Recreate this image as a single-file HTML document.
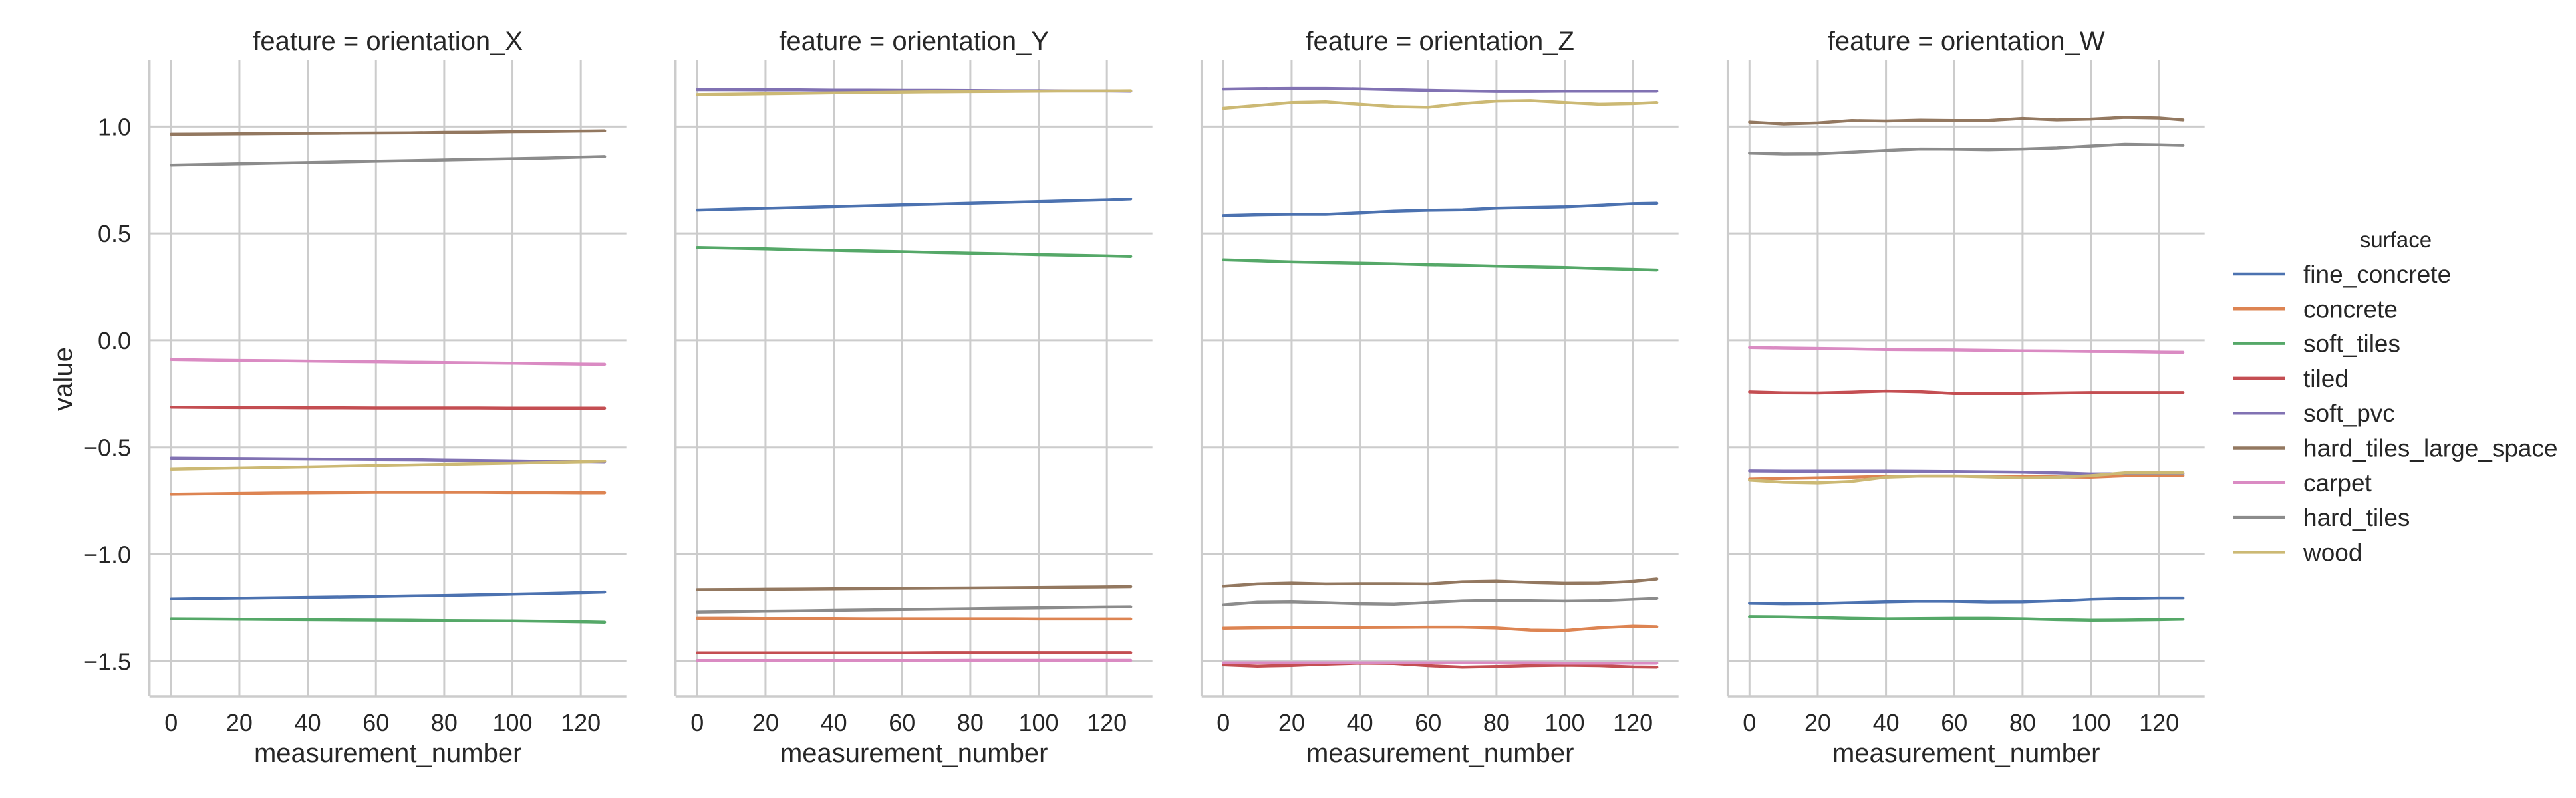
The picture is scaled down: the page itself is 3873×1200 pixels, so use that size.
<!DOCTYPE html>
<html><head><meta charset="utf-8"><style>
html,body{margin:0;padding:0;background:#fff;}
svg{display:block;font-family:"Liberation Sans",Arial,sans-serif;}
</style></head><body>
<svg id="chart" width="3873" height="1200" viewBox="0 0 3873 1200" xmlns="http://www.w3.org/2000/svg"></svg>
<script>
const measurementNumbers = [0,10,20,30,40,50,60,70,80,90,100,110,120,127];
const features = ["orientation_X","orientation_Y","orientation_Z","orientation_W"];
const surfaces = ["fine_concrete","concrete","soft_tiles","tiled","soft_pvc","hard_tiles_large_space","carpet","hard_tiles","wood"];
const colors = ["#4c72b0","#dd8452","#55a868","#c44e52","#8172b3","#937860","#da8bc3","#8c8c8c","#ccb974"];
const yTicks = [1.0,0.5,0.0,-0.5,-1.0,-1.5];
const yTickLabels = ["1.0","0.5","0.0","\u22120.5","\u22121.0","\u22121.5"];
const xTicks = [0,20,40,60,80,100,120];
const xTickLabels = ["0","20","40","60","80","100","120"];

// orientation_X
const xFineConcrete = [-1.209,-1.207,-1.205,-1.203,-1.201,-1.199,-1.197,-1.194,-1.192,-1.189,-1.186,-1.183,-1.179,-1.176];
const xConcrete = [-0.720,-0.718,-0.716,-0.714,-0.713,-0.712,-0.711,-0.711,-0.711,-0.711,-0.712,-0.712,-0.713,-0.713];
const xSoftTiles = [-1.302,-1.303,-1.304,-1.305,-1.306,-1.307,-1.308,-1.309,-1.310,-1.311,-1.312,-1.314,-1.316,-1.318];
const xTiled = [-0.312,-0.313,-0.314,-0.314,-0.315,-0.315,-0.316,-0.316,-0.316,-0.316,-0.317,-0.317,-0.317,-0.317];
const xSoftPvc = [-0.550,-0.551,-0.552,-0.553,-0.554,-0.555,-0.556,-0.557,-0.559,-0.561,-0.563,-0.565,-0.566,-0.567];
const xHardTilesLarge = [0.964,0.965,0.966,0.967,0.968,0.969,0.970,0.971,0.973,0.974,0.976,0.977,0.979,0.980];
const xCarpet = [-0.090,-0.092,-0.094,-0.095,-0.097,-0.099,-0.100,-0.102,-0.104,-0.105,-0.107,-0.109,-0.111,-0.112];
const xHardTiles = [0.820,0.823,0.826,0.829,0.832,0.835,0.838,0.841,0.844,0.847,0.850,0.853,0.857,0.860];
const xWood = [-0.603,-0.600,-0.597,-0.594,-0.591,-0.588,-0.585,-0.582,-0.579,-0.576,-0.573,-0.570,-0.567,-0.564];
// orientation_Y
const yFineConcrete = [0.609,0.613,0.617,0.621,0.625,0.629,0.633,0.637,0.641,0.645,0.649,0.653,0.657,0.661];
const yConcrete = [-1.300,-1.300,-1.301,-1.301,-1.301,-1.302,-1.302,-1.302,-1.302,-1.302,-1.303,-1.303,-1.303,-1.303];
const ySoftTiles = [0.434,0.431,0.428,0.424,0.421,0.418,0.415,0.411,0.408,0.405,0.401,0.398,0.395,0.392];
const yTiled = [-1.461,-1.461,-1.461,-1.461,-1.461,-1.461,-1.461,-1.460,-1.460,-1.460,-1.460,-1.460,-1.460,-1.460];
const ySoftPvc = [1.172,1.172,1.171,1.171,1.170,1.170,1.169,1.169,1.168,1.167,1.167,1.166,1.166,1.165];
const yHardTilesLarge = [-1.165,-1.164,-1.163,-1.162,-1.161,-1.160,-1.159,-1.158,-1.157,-1.156,-1.155,-1.153,-1.152,-1.151];
const yCarpet = [-1.497,-1.497,-1.497,-1.497,-1.497,-1.497,-1.497,-1.497,-1.496,-1.496,-1.496,-1.496,-1.496,-1.496];
const yHardTiles = [-1.271,-1.269,-1.267,-1.265,-1.263,-1.261,-1.259,-1.257,-1.255,-1.253,-1.251,-1.249,-1.247,-1.246];
const yWood = [1.149,1.151,1.153,1.155,1.157,1.159,1.161,1.162,1.163,1.164,1.165,1.166,1.166,1.167];
// orientation_Z
const zFineConcrete = [0.583,0.587,0.589,0.589,0.596,0.604,0.608,0.610,0.618,0.621,0.624,0.631,0.639,0.641];
const zConcrete = [-1.346,-1.344,-1.343,-1.343,-1.343,-1.342,-1.341,-1.341,-1.345,-1.355,-1.357,-1.344,-1.337,-1.339];
const zSoftTiles = [0.377,0.372,0.367,0.364,0.361,0.358,0.354,0.351,0.347,0.344,0.341,0.336,0.332,0.329];
const zTiled = [-1.517,-1.523,-1.520,-1.514,-1.509,-1.511,-1.521,-1.528,-1.525,-1.521,-1.519,-1.521,-1.527,-1.528];
const zSoftPvc = [1.175,1.177,1.178,1.178,1.176,1.172,1.169,1.166,1.164,1.164,1.165,1.165,1.165,1.165];
const zHardTilesLarge = [-1.149,-1.138,-1.134,-1.138,-1.137,-1.137,-1.138,-1.128,-1.125,-1.131,-1.135,-1.134,-1.126,-1.115];
const zCarpet = [-1.508,-1.508,-1.508,-1.508,-1.508,-1.508,-1.508,-1.508,-1.508,-1.508,-1.509,-1.509,-1.509,-1.509];
const zHardTiles = [-1.237,-1.225,-1.223,-1.227,-1.232,-1.234,-1.226,-1.218,-1.215,-1.217,-1.219,-1.217,-1.211,-1.206];
const zWood = [1.085,1.098,1.112,1.115,1.104,1.093,1.090,1.107,1.119,1.121,1.112,1.104,1.107,1.112];
// orientation_W
const wFineConcrete = [-1.230,-1.232,-1.231,-1.227,-1.223,-1.220,-1.221,-1.224,-1.223,-1.218,-1.211,-1.207,-1.204,-1.204];
const wConcrete = [-0.649,-0.646,-0.643,-0.640,-0.637,-0.635,-0.635,-0.636,-0.637,-0.639,-0.640,-0.634,-0.633,-0.633];
const wSoftTiles = [-1.292,-1.293,-1.296,-1.300,-1.302,-1.301,-1.300,-1.300,-1.302,-1.306,-1.309,-1.308,-1.306,-1.304];
const wTiled = [-0.241,-0.245,-0.246,-0.242,-0.237,-0.240,-0.248,-0.248,-0.248,-0.246,-0.244,-0.244,-0.244,-0.244];
const wSoftPvc = [-0.611,-0.612,-0.612,-0.612,-0.612,-0.613,-0.614,-0.615,-0.617,-0.620,-0.625,-0.624,-0.624,-0.624];
const wHardTilesLarge = [1.021,1.012,1.017,1.028,1.026,1.030,1.028,1.028,1.038,1.031,1.035,1.043,1.040,1.031];
const wCarpet = [-0.034,-0.036,-0.038,-0.040,-0.043,-0.044,-0.045,-0.047,-0.049,-0.050,-0.052,-0.053,-0.055,-0.056];
const wHardTiles = [0.876,0.872,0.873,0.880,0.888,0.895,0.894,0.892,0.895,0.900,0.909,0.917,0.915,0.912];
const wWood = [-0.654,-0.664,-0.667,-0.660,-0.640,-0.635,-0.635,-0.639,-0.643,-0.641,-0.633,-0.620,-0.620,-0.620];

const panelSeries = [
  [xFineConcrete,xConcrete,xSoftTiles,xTiled,xSoftPvc,xHardTilesLarge,xCarpet,xHardTiles,xWood],
  [yFineConcrete,yConcrete,ySoftTiles,yTiled,ySoftPvc,yHardTilesLarge,yCarpet,yHardTiles,yWood],
  [zFineConcrete,zConcrete,zSoftTiles,zTiled,zSoftPvc,zHardTilesLarge,zCarpet,zHardTiles,zWood],
  [wFineConcrete,wConcrete,wSoftTiles,wTiled,wSoftPvc,wHardTilesLarge,wCarpet,wHardTiles,wWood]
];

const NS = "http://www.w3.org/2000/svg";
const svg = document.getElementById("chart");
const panelLeft0 = 224.7, panelStep = 791, panelW = 717;
const plotTop = 90, plotBottom = 1047;
const xMin = -6.35, xMax = 133.35, yMin = -1.664, yMax = 1.312;
function xScale(p, v){ return panelLeft0 + p*panelStep + (v - xMin)/(xMax - xMin)*panelW; }
function yScale(v){ return plotBottom - (v - yMin)/(yMax - yMin)*(plotBottom - plotTop); }
function mk(tag, attrs, parent){
  const el = document.createElementNS(NS, tag);
  for (const k in attrs) el.setAttribute(k, attrs[k]);
  (parent || svg).appendChild(el);
  return el;
}

features.forEach((feat, p) => {
  const g = mk("g", {});
  
  
  const L = panelLeft0 + p*panelStep;
  yTicks.forEach(t => {
    const ln = mk("line", {x1:L, x2:L+panelW, y1:yScale(t), y2:yScale(t), stroke:"#cccccc", "stroke-width":3}, g);
    
    
  });
  xTicks.forEach((t, i) => {
    const ln = mk("line", {x1:xScale(p,t), x2:xScale(p,t), y1:plotTop, y2:plotBottom, stroke:"#cccccc", "stroke-width":3}, g);
    
    
    const tx = mk("text", {x:xScale(p,t), y:1099, "text-anchor":"middle", "font-size":36, fill:"#262626"}, g);
    tx.textContent = xTickLabels[i];
    
    
  });
  const sl = mk("line", {x1:L, x2:L, y1:plotTop, y2:plotBottom, stroke:"#cccccc", "stroke-width":3.5}, g);
  
  
  const sb = mk("line", {x1:L, x2:L+panelW, y1:plotBottom, y2:plotBottom, stroke:"#cccccc", "stroke-width":3.5}, g);
  
  
  panelSeries[p].forEach((vals, s) => {
    const d = vals.map((v, i) => (i ? "L" : "M") + xScale(p, measurementNumbers[i]).toFixed(1) + "," + yScale(v).toFixed(1)).join(" ");
    const path = mk("path", {d:d, fill:"none", stroke:colors[s], "stroke-width":4.5, "stroke-linejoin":"round", "stroke-linecap":"round"}, g);
    
    
  });
  const ti = mk("text", {x:L + panelW/2, y:75, "text-anchor":"middle", "font-size":40, fill:"#262626"}, g);
  ti.textContent = "feature = " + feat;
  
  
  const xl = mk("text", {x:L + panelW/2, y:1146, "text-anchor":"middle", "font-size":40, fill:"#262626"}, g);
  xl.textContent = "measurement_number";
  
  
  if (p === 0) {
    yTicks.forEach((t, i) => {
      const ty = mk("text", {x:197, y:yScale(t)+13, "text-anchor":"end", "font-size":36, fill:"#262626"}, g);
      ty.textContent = yTickLabels[i];
      
      
    });
    const yl = mk("text", {x:0, y:0, transform:"translate(108,570) rotate(-90)", "text-anchor":"middle", "font-size":40, fill:"#262626"}, g);
    yl.textContent = "value";
    
    
  }
});

const lg = mk("g", {});


const lt = mk("text", {x:3602, y:372, "text-anchor":"middle", "font-size":33, fill:"#262626"}, lg);
lt.textContent = "surface";


surfaces.forEach((name, s) => {
  const cy = 412 + s*52.3;
  const e = mk("g", {}, lg);
  
  
  mk("line", {x1:3357, x2:3435, y1:cy, y2:cy, stroke:colors[s], "stroke-width":4.5}, e);
  const t = mk("text", {x:3463, y:cy+13, "font-size":37, fill:"#262626"}, e);
  t.textContent = name;
});
</script>
</body></html>
